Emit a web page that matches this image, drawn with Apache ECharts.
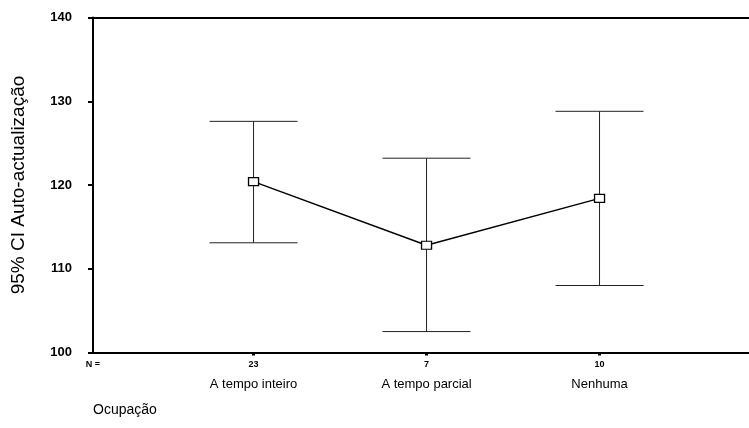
<!DOCTYPE html>
<html>
<head>
<meta charset="utf-8">
<script src="https://cdn.jsdelivr.net/npm/echarts@6/dist/echarts.min.js"></script>
<style>
html,body{margin:0;padding:0;background:#fff;}
#chart{width:749px;height:428px;}
</style>
</head>
<body>
<div id="chart"></div>
<script>
// Data
var categories = ['A tempo inteiro', 'A tempo parcial', 'Nenhuma'];
var nCounts = [23, 7, 10];
var means = [120.4, 112.8, 118.4];
var lowerCI = [113.1, 102.5, 108.0];
var upperCI = [127.6, 123.2, 128.8];
var yTicks = [100, 110, 120, 130, 140];

var positions = categories.map(function (c, i) { return i + 1; });
var xMin = 0.072, xMax = 3.864;

var chart = echarts.init(document.getElementById('chart'), null, {renderer: 'canvas'});
var FONT = 'Liberation Sans, Arial, sans-serif';

var option = {
  backgroundColor: '#fff',
  animation: false,
  grid: {left: 93, top: 17.5, right: 0, bottom: 75.5},
  xAxis: [{
    type: 'value', min: xMin, max: xMax, position: 'bottom',
    splitLine: {show: false},
    axisLine: {show: true, onZero: false, lineStyle: {color: '#000', width: 2}},
    axisTick: {show: true, customValues: positions, length: 3, inside: false, lineStyle: {color: '#000', width: 3}},
    axisLabel: {
      show: true, customValues: [xMin].concat(positions), margin: 3,
      fontFamily: FONT, color: '#000',
      formatter: function (v) {
        var i = positions.indexOf(v);
        if (i < 0) return '{n|N =}';
        return '{n|' + nCounts[i] + '}\n{c|' + categories[i] + '}';
      },
      rich: {
        n: {fontSize: 9, fontWeight: 'bold', lineHeight: 18, fontFamily: FONT, color: '#000'},
        c: {fontSize: 13, lineHeight: 21, fontFamily: FONT, color: '#000'}
      }
    }
  }, {
    type: 'value', min: xMin, max: xMax, position: 'top',
    splitLine: {show: false},
    axisLine: {show: true, onZero: false, lineStyle: {color: '#000', width: 2}},
    axisTick: {show: false}, axisLabel: {show: false}
  }],
  yAxis: {
    type: 'value', min: yTicks[0], max: yTicks[yTicks.length - 1], interval: 10,
    splitLine: {show: false},
    axisLine: {show: true, lineStyle: {color: '#000', width: 2}},
    axisTick: {show: true, length: 5, lineStyle: {color: '#000', width: 2}},
    axisLabel: {fontSize: 13, fontWeight: 'bold', color: '#000', fontFamily: FONT, margin: 21},
    name: '95% CI Auto-actualização',
    nameLocation: 'middle', nameRotate: 90, nameGap: 65,
    nameTextStyle: {fontSize: 19, color: '#000', fontFamily: FONT}
  },
  graphic: [{
    type: 'text', left: 93, top: 403,
    style: {text: 'Ocupação', fontSize: 14, fontFamily: FONT, fill: '#000'}
  }],
  series: [{
    type: 'custom',
    z: 2,
    data: positions.map(function (p, i) { return [p, lowerCI[i], upperCI[i]]; }),
    renderItem: function (params, api) {
      var x = api.value(0);
      var lo = api.coord([x, api.value(1)]);
      var hi = api.coord([x, api.value(2)]);
      var hw = 44;
      var st = {stroke: '#222', lineWidth: 1};
      return {
        type: 'group',
        children: [
          {type: 'line', shape: {x1: lo[0], y1: lo[1], x2: hi[0], y2: hi[1]}, style: st},
          {type: 'line', shape: {x1: hi[0] - hw, y1: hi[1], x2: hi[0] + hw, y2: hi[1]}, style: st},
          {type: 'line', shape: {x1: lo[0] - hw, y1: lo[1], x2: lo[0] + hw, y2: lo[1]}, style: st}
        ]
      };
    }
  }, {
    type: 'line',
    z: 3,
    data: positions.map(function (p, i) { return [p, means[i]]; }),
    symbol: 'rect', symbolSize: [10, 8],
    itemStyle: {color: '#fff', borderColor: '#000', borderWidth: 1.2},
    lineStyle: {color: '#000', width: 1.5}
  }]
};
chart.setOption(option);
</script>
</body>
</html>
